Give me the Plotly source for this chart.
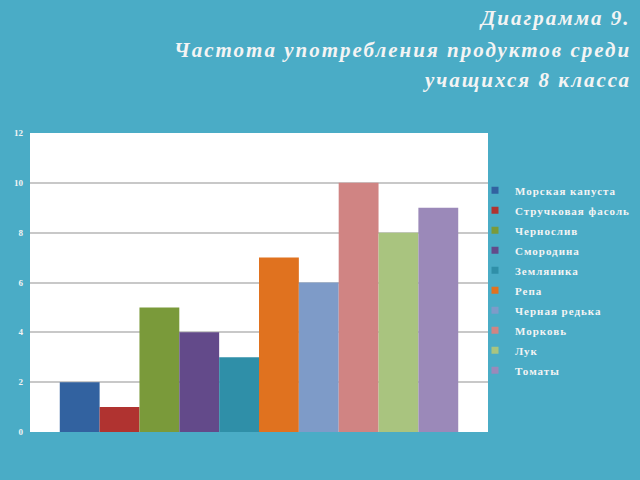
import plotly.graph_objects as go

categories = ["Морская капуста", "Стручковая фасоль", "Чернослив", "Смородина", "Земляника",
              "Репа", "Черная редька", "Морковь", "Лук", "Томаты"]
values = [2, 1, 5, 4, 3, 7, 6, 10, 8, 9]
colors = ["#3262a0", "#b03330", "#7a9a3a", "#634a8a", "#2f8fa8",
          "#e0721f", "#7e9bc8", "#d08483", "#a9c47f", "#9b89b9"]
yticks = [0, 2, 4, 6, 8, 10, 12]

BG = "#4aacc6"
FONT = "Liberation Serif"
TXT = "#f4f4f4"

fig = go.Figure()
for name, v, c in zip(categories, values, colors):
    fig.add_trace(go.Bar(x=["Группа"], y=[v], name=name, showlegend=False,
                         marker=dict(color=c, line=dict(width=0))))
# legend entries with small square swatches
for i, (name, c) in enumerate(zip(categories, colors)):
    fig.add_trace(go.Scatter(x=[None], y=[None], mode="markers", showlegend=True,
                             legendgroup="g%d" % i,
                             name='<span style="letter-spacing:1px">' + name + '</span>',
                             marker=dict(symbol="square", size=7, color=c)))

fig.update_layout(
    width=640, height=480,
    paper_bgcolor=BG, plot_bgcolor="white",
    margin=dict(l=30, r=152, t=133, b=48, autoexpand=False),
    barmode="group", bargap=0.13, bargroupgap=0,
    legend=dict(x=(475 - 30) / 458, y=0.857, xanchor="left", yanchor="top",
                font=dict(family=FONT, size=11, color=TXT, weight="bold"),
                bgcolor="rgba(0,0,0,0)", itemwidth=30, tracegroupgap=1),
    xaxis=dict(showticklabels=False, showgrid=False, zeroline=False, ticks=""),
    yaxis=dict(range=[0, 12], tickvals=yticks, showgrid=True, gridcolor="#c8c8c8",
               gridwidth=1.5, zeroline=False, ticks="", ticklabelstandoff=6,
               tickfont=dict(family=FONT, size=9, color=TXT, weight="bold")),
    font=dict(family=FONT, color=TXT),
)

title_lines = ["Диаграмма 9.", "Частота употребления продуктов среди", "учащихся 8 класса"]
title_y = [18, 50, 80]
for t, yy in zip(title_lines, title_y):
    fig.add_annotation(text='<b><i><span style="letter-spacing:2px">' + t + '</span></i></b>',
                       xref="paper", yref="paper",
                       x=(633 - 30) / 458, y=(432 - yy) / 299, xanchor="right", yanchor="middle",
                       showarrow=False, font=dict(family=FONT, size=21, color=TXT))

fig.write_html("out.html", config={"displayModeBar": False},
               post_script="document.body.style.margin='0';")
